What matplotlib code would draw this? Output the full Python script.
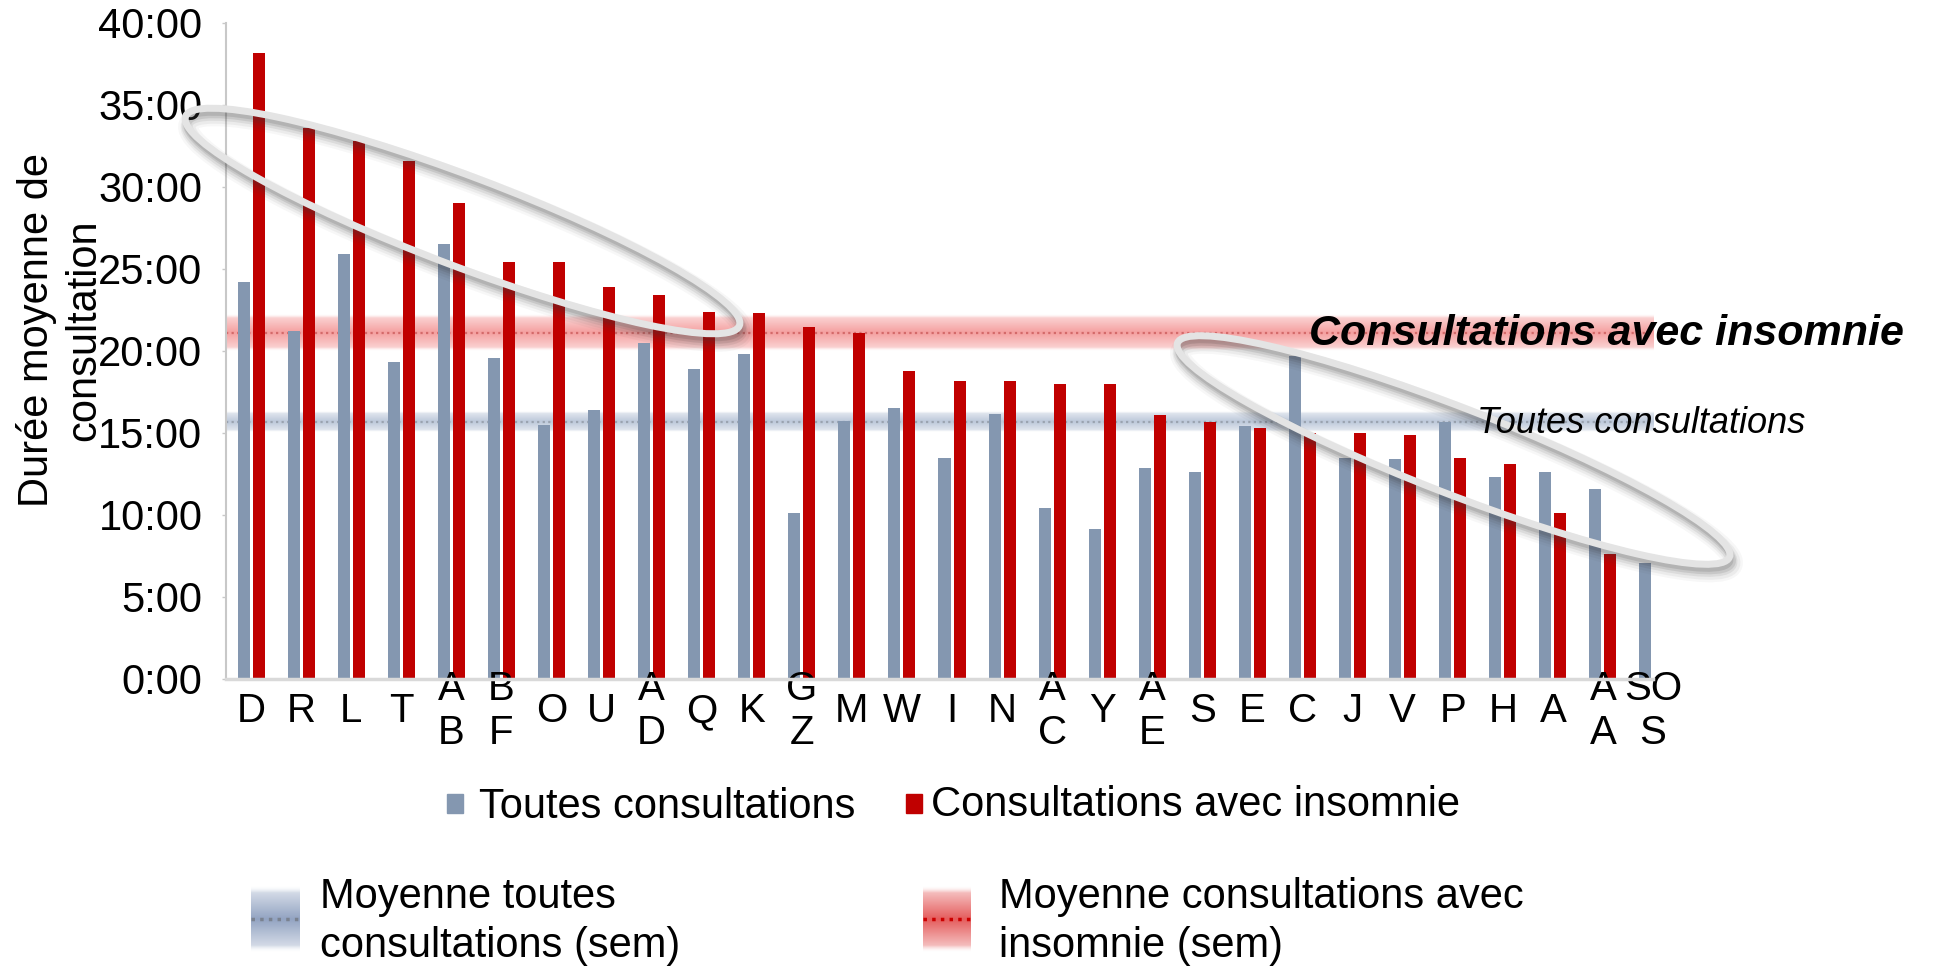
import numpy as np
import matplotlib
matplotlib.use("Agg")
import matplotlib.pyplot as plt
from matplotlib.patches import Ellipse, Rectangle
from matplotlib.ticker import FuncFormatter
from matplotlib.transforms import blended_transform_factory, ScaledTranslation

plt.rcParams['font.family'] = ['Liberation Sans', 'DejaVu Sans']

# ---------------- data (minutes) ----------------
categories = ["D", "R", "L", "T", "A\nB", "B\nF", "O", "U", "A\nD", "Q", "K", "G\nZ",
              "M", "W", "I", "N", "A\nC", "Y", "A\nE", "S", "E", "C", "J", "V", "P",
              "H", "A", "A\nA", "SO\nS"]
toutes = [24.2, 21.2, 25.9, 19.3, 26.5, 19.55, 15.5, 16.4, 20.5, 18.9, 19.8, 10.1,
          15.75, 16.55, 13.5, 16.15, 10.4, 9.15, 12.85, 12.6, 15.45, 19.7, 13.5, 13.4,
          15.7, 12.3, 12.6, 11.6, 7.1]
insomnie = [38.2, 33.6, 32.8, 31.6, 29.0, 25.4, 25.4, 23.9, 23.4, 22.4, 22.3, 21.45,
            21.1, 18.75, 18.2, 18.2, 18.0, 18.0, 16.1, 15.7, 15.3, 15.0, 15.0, 14.9,
            13.5, 13.1, 10.1, 7.6, np.nan]
mean_toutes, sem_toutes = 15.7, 0.5
mean_insomnie, sem_insomnie = 21.1, 0.9
yticks = [0, 5, 10, 15, 20, 25, 30, 35, 40]
series_labels = ["Toutes consultations", "Consultations avec insomnie"]
band_labels = [["Moyenne toutes", "consultations (sem)"],
               ["Moyenne consultations avec", "insomnie (sem)"]]
ylabel = "Durée moyenne de\nconsultation"

BLUE = "#8497B0"
RED = "#C00000"
BLUE_BAND = (0.55, 0.63, 0.75)
RED_BAND = (0.93, 0.35, 0.35)

W, H = 1951, 966
fig = plt.figure(figsize=(W / 100, H / 100), dpi=100)
ax = fig.add_axes([226 / W, 1 - 679 / H, (1653 - 226) / W, (679 - 23) / H])

x = np.arange(len(categories))
off, bw = 0.15, 0.24
ins = np.array(insomnie, dtype=float)
ax.bar(x - off, toutes, width=bw, color=BLUE, zorder=3)
mask = ~np.isnan(ins)
ax.bar(x[mask] + off, ins[mask], width=bw, color=RED, zorder=3)


def band_image(rgb, base=0.28, peak=0.30, n=200):
    t = np.linspace(-1.25, 1.25, n)
    a = np.clip(base + peak * (1 - np.abs(t)), 0, None)
    a = np.where(np.abs(t) > 1.0, a * np.clip((1.25 - np.abs(t)) / 0.25, 0, 1) ** 1.5, a)
    img = np.zeros((n, 2, 4))
    img[..., 0], img[..., 1], img[..., 2] = rgb
    img[..., 3] = a[:, None]
    return img


def draw_band(axis, mean, sem, rgb, dot, x0, x1, base=0.28, peak=0.30, dlw=1.6):
    axis.imshow(band_image(rgb, base, peak), extent=[x0, x1, mean - 1.25 * sem, mean + 1.25 * sem],
                aspect='auto', origin='lower', zorder=2, interpolation='bilinear')
    axis.plot([x0, x1], [mean, mean], linestyle=(0, (1, 1.5)), color=dot, lw=dlw, zorder=2.1)


draw_band(ax, mean_insomnie, sem_insomnie, RED_BAND, "#d46a6a", -0.5, 28.1)
draw_band(ax, mean_toutes, sem_toutes, BLUE_BAND, "#9aa3b0", -0.5, 28.1)
ax.set_xlim(-0.5, 28.0)
ax.set_ylim(0, 40)

# axes styling
for s in ["top", "right"]:
    ax.spines[s].set_visible(False)
ax.spines["left"].set_color("#c8c8c8")
ax.spines["left"].set_linewidth(1.5)
ax.spines["bottom"].set_color("#d9d9d9")
ax.spines["bottom"].set_linewidth(2.5)
ax.spines["bottom"].set_zorder(4)
ax.set_yticks(yticks)
ax.yaxis.set_major_formatter(FuncFormatter(lambda v, p: f"{int(v)}:{int(round((v % 1) * 60)):02d}"))
ax.tick_params(axis='y', labelsize=30, length=3, width=1, color="#c8c8c8", pad=14)
ax.set_xticks([])

# category labels
tr = blended_transform_factory(ax.transData, ax.transAxes)
yl = -(711 - 679) / (679 - 23)
for i, c in enumerate(categories):
    ax.text(i, yl, c, transform=tr, ha='center', va='center', fontsize=29,
            linespacing=1.22, multialignment='center', clip_on=False)

# y label
fig.text(60 / W, 1 - 330 / H, ylabel, rotation=90, ha='center', va='center',
         fontsize=30, linespacing=1.25, multialignment='center')

# annotations near the mean bands
fig.text(1309 / W, 1 - 345 / H, "Consultations avec insomnie", fontsize=31,
         fontweight='bold', fontstyle='italic', ha='left', va='baseline', zorder=7)
fig.text(1477 / W, 1 - 433 / H, "Toutes consultations", fontsize=26,
         fontstyle='italic', ha='left', va='baseline', zorder=7)

# ellipses with soft shadow
def ellipse(cx, cy, w, h, ang):
    c = (cx / 100, (H - cy) / 100)
    for lw, al, dx, dy in [(20, 0.04, 3, -8), (15, 0.06, 3, -8), (11, 0.09, 2, -7),
                           (8, 0.12, 2, -6), (5, 0.14, 1, -5)]:
        sh = Ellipse(c, w / 100, h / 100, angle=ang, fill=False, edgecolor="#3a3a3a",
                     lw=lw * 0.72, alpha=al,
                     transform=fig.dpi_scale_trans + ScaledTranslation(dx / 100, dy / 100, fig.dpi_scale_trans),
                     zorder=5)
        fig.add_artist(sh)
    e = Ellipse(c, w / 100, h / 100, angle=ang, fill=False, edgecolor="#e4e4e4",
                lw=7 * 0.72, transform=fig.dpi_scale_trans, zorder=6)
    fig.add_artist(e)

ellipse(462.5, 221, 592, 90, -20.7)
ellipse(1453.5, 450, 592, 86, -21.2)

# legend 1
fig.add_artist(Rectangle((447 / W, 1 - 813 / H), 16 / W, 19 / H, color=BLUE, transform=fig.transFigure))
fig.text(479 / W, 1 - 818 / H, series_labels[0], fontsize=30, va='baseline', ha='left')
fig.add_artist(Rectangle((906 / W, 1 - 813 / H), 16 / W, 19 / H, color=RED, transform=fig.transFigure))
fig.text(931 / W, 1 - 816 / H, series_labels[1], fontsize=30, va='baseline', ha='left')

# legend 2 (gradient patches)
def legend_patch(x0, x1, y0, y1, rgb, dot):
    lax = fig.add_axes([x0 / W, 1 - y1 / H, (x1 - x0) / W, (y1 - y0) / H])
    lax.axis('off')
    draw_band(lax, 0, 1, rgb, dot, 0.05, 0.95, base=0.35, peak=0.5, dlw=2.5)
    lax.set_xlim(0, 1)
    lax.set_ylim(-1.25, 1.25)

legend_patch(248, 302, 886, 952, (0.50, 0.58, 0.72), "#7a8290")
legend_patch(920, 973, 886, 952, (0.88, 0.25, 0.25), "#cc0000")
fig.text(320 / W, 1 - 908 / H, band_labels[0][0], fontsize=30, va='baseline', ha='left')
fig.text(320 / W, 1 - 957 / H, band_labels[0][1], fontsize=30, va='baseline', ha='left')
fig.text(999 / W, 1 - 908 / H, band_labels[1][0], fontsize=30, va='baseline', ha='left')
fig.text(999 / W, 1 - 957 / H, band_labels[1][1], fontsize=30, va='baseline', ha='left')

fig.savefig("out.png", dpi=100)
